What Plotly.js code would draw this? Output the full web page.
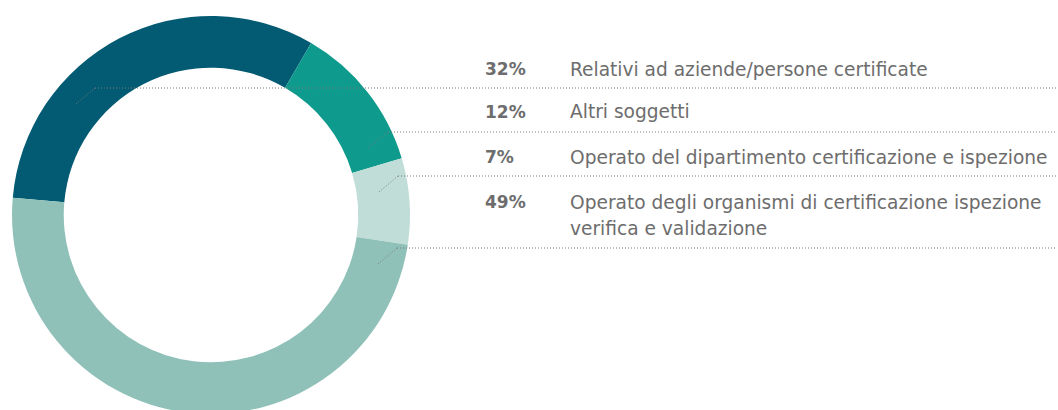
<!DOCTYPE html>
<html>
<head>
<meta charset="utf-8">
<script src="https://cdn.plot.ly/plotly-3.0.1.min.js"></script>
<style>
html,body{margin:0;padding:0;overflow:hidden;background:#fff;}
#chart{width:1058px;height:440px;}
</style>
</head>
<body>
<div id="chart"></div>
<script>
// ---- data ----
var categories = [
  "Relativi ad aziende/persone certificate",
  "Altri soggetti",
  "Operato del dipartimento certificazione e ispezione",
  "Operato degli organismi di certificazione ispezione<br>verifica e validazione"
];
var shares = [32, 12, 7, 49];
var sliceColors = ["#035b73", "#0e9a8c", "#c0ddd7", "#8fc1b9"];

// ---- layout config (pixels) ----
var W = 1058, H = 440;
var cx = 211, cy = 215, R = 199;
var rowY = [69, 112, 157, 202];      // text row centres
var lineY = [88, 132, 176, 248];     // dotted rule under each row
var leaderStart = [[76, 104], [368, 148], [379, 192], [378, 264]];
var leaderKnee = [[95, 88], [388, 132], [398, 176], [397, 248]];
var pctX = 483, labelX = 568, lineEndX = 1056, lineGap = 26;
var textColor = "#6d6d6d", dotColor = "#7a7a7a";
var fontFam = "'DejaVu Sans', sans-serif";
var pctSize = 17, labelSize = 18.6;

function px(x) { return x / W; }
function py(y) { return (H - y) / H; }

var trace = {
  type: "pie",
  values: shares,
  labels: categories,
  marker: { colors: sliceColors, line: { width: 0 } },
  hole: 0.74,
  sort: false,
  direction: "clockwise",
  rotation: 275,
  textinfo: "none",
  hoverinfo: "label+percent",
  showlegend: false,
  domain: { x: [px(cx - R), px(cx + R)], y: [py(cy + R), py(cy - R)] }
};

var shapes = [];
var annotations = [];
for (var i = 0; i < shares.length; i++) {
  shapes.push({
    type: "line", xref: "paper", yref: "paper",
    x0: px(leaderStart[i][0]), y0: py(leaderStart[i][1]),
    x1: px(leaderKnee[i][0]), y1: py(leaderKnee[i][1]),
    line: { color: dotColor, width: 1, dash: "1px,2px" }
  });
  shapes.push({
    type: "line", xref: "paper", yref: "paper",
    x0: px(leaderKnee[i][0]), y0: py(lineY[i]),
    x1: px(lineEndX), y1: py(lineY[i]),
    line: { color: dotColor, width: 1, dash: "1px,2px" }
  });
  annotations.push({
    xref: "paper", yref: "paper", x: px(pctX), y: py(rowY[i]),
    xanchor: "left", yanchor: "middle", showarrow: false,
    text: "<b>" + shares[i] + "%</b>",
    font: { family: fontFam, size: pctSize, color: textColor }
  });
  var parts = categories[i].split("<br>");
  for (var k = 0; k < parts.length; k++) {
    annotations.push({
      xref: "paper", yref: "paper", x: px(labelX), y: py(rowY[i] + k * lineGap),
      xanchor: "left", yanchor: "middle", showarrow: false,
      text: parts[k],
      font: { family: fontFam, size: labelSize, color: textColor }
    });
  }
}

var layout = {
  width: W, height: H,
  margin: { l: 0, r: 0, t: 0, b: 0 },
  paper_bgcolor: "#ffffff",
  plot_bgcolor: "#ffffff",
  shapes: shapes,
  annotations: annotations
};

Plotly.newPlot("chart", [trace], layout, { displayModeBar: false, staticPlot: true });
</script>
</body>
</html>
